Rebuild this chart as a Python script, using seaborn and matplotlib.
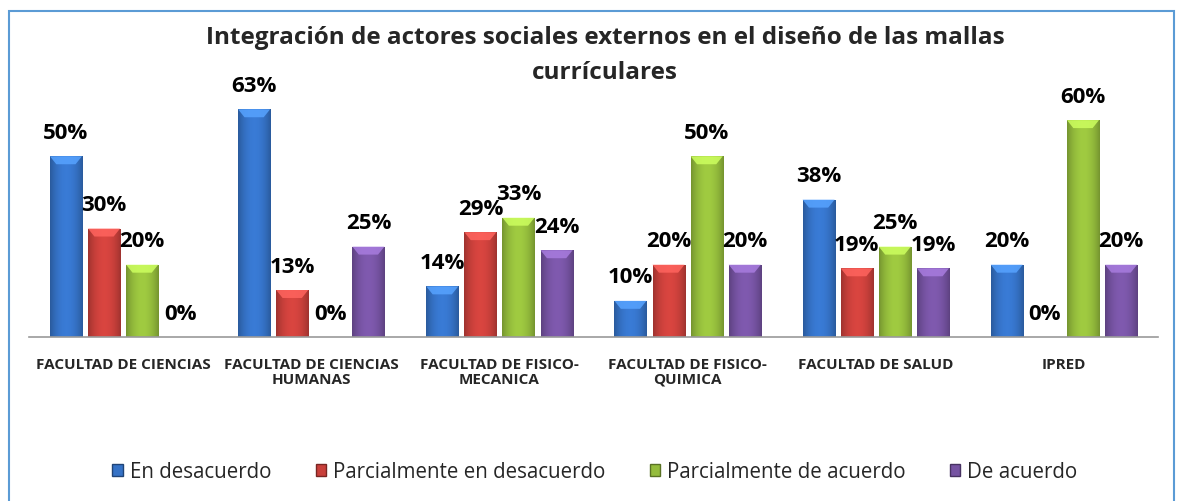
import numpy as np
import pandas as pd
import matplotlib
matplotlib.use("Agg")
import matplotlib.pyplot as plt
import matplotlib.colors as mcolors
from matplotlib.patches import Rectangle, Polygon
import seaborn as sns

categories = ["FACULTAD DE CIENCIAS", "FACULTAD DE CIENCIAS\nHUMANAS",
              "FACULTAD DE FISICO-\nMECANICA", "FACULTAD DE FISICO-\nQUIMICA",
              "FACULTAD DE SALUD", "IPRED"]
series = ["En desacuerdo", "Parcialmente en desacuerdo",
          "Parcialmente de acuerdo", "De acuerdo"]
en_desacuerdo = [0.50, 0.63, 0.14, 0.10, 0.38, 0.20]
parc_desacuerdo = [0.30, 0.13, 0.29, 0.20, 0.19, 0.00]
parc_acuerdo = [0.20, 0.00, 0.33, 0.50, 0.25, 0.60]
de_acuerdo = [0.00, 0.25, 0.24, 0.20, 0.19, 0.20]
colors = ["#3572C6", "#C9403B", "#94BC3C", "#7653A2"]
title_lines = ["Integración de actores sociales externos en el diseño de las mallas",
               "currículares"]

sns.set_theme(style="white")
plt.rcParams['font.family'] = ['Open Sans', 'DejaVu Sans']

values = [en_desacuerdo, parc_desacuerdo, parc_acuerdo, de_acuerdo]
df = pd.DataFrame({
    "cat": np.repeat([categories], 4, axis=0).ravel(),
    "serie": np.repeat(series, len(categories)),
    "val": np.concatenate(values),
})

fig = plt.figure(figsize=(11.78, 5.01), dpi=100)
fig.patches.append(Rectangle((9 / 1178, -0.01), 1165 / 1178, 1 - 11 / 501 + 0.01,
                             transform=fig.transFigure, fill=False,
                             edgecolor="#5B9BD5", linewidth=1.5))
ax = fig.add_axes([29 / 1178, 1 - 337 / 501, 1129 / 1178, 253 / 501])
sns.barplot(data=df, x="cat", y="val", hue="serie", order=categories,
            hue_order=series, palette=colors, width=0.81, gap=0.16,
            ax=ax, legend=False, saturation=1)

# gradient shading on each bar
for bar in ax.patches:
    x0, y0 = bar.get_x(), bar.get_y()
    w, h = bar.get_width(), bar.get_height()
    if h <= 0:
        continue
    base = np.array(mcolors.to_rgb(bar.get_facecolor()))
    t = np.linspace(0, 1, 64)
    shade = 0.78 + 0.30 * np.sin(np.pi * t) ** 0.8
    grad = np.clip(base[None, :] * shade[:, None], 0, 1)[None, :, :]
    im = ax.imshow(grad, extent=[x0, x0 + w, y0, y0 + h], aspect="auto",
                   zorder=2.5, interpolation="bicubic")
    im.set_clip_path(bar)
    bar.set_edgecolor(tuple(base * 0.6))
    bar.set_linewidth(0.6)
    # top bevel
    dh = min(0.022, h)
    light = tuple(np.clip(base * 1.25 + 0.08, 0, 1))
    tri = Polygon([[x0, y0 + h], [x0 + w, y0 + h], [x0 + w * 0.8, y0 + h - dh],
                   [x0 + w * 0.2, y0 + h - dh]], closed=True,
                  facecolor=light, edgecolor="none", zorder=2.6, alpha=0.85)
    ax.add_patch(tri)

for cont in ax.containers:
    ax.bar_label(cont, labels=[f"{v * 100:.0f}%" for v in cont.datavalues],
                 padding=9, fontsize=16, fontweight="bold", color="black")

ax.set_ylim(0, 0.70)
ax.set_xlim(-0.5, len(categories) - 0.5)
ax.set_xlabel("")
ax.set_ylabel("")
ax.set_yticks([])
ax.tick_params(axis="x", length=0, pad=15)
for lbl in ax.get_xticklabels():
    lbl.set_fontsize(11)
    lbl.set_fontweight("bold")
    lbl.set_linespacing(1.1)
for s in ["top", "right", "left"]:
    ax.spines[s].set_visible(False)
ax.spines["bottom"].set_color("#9A9A9A")
ax.spines["bottom"].set_linewidth(1.2)

fig.text(605 / 1178, 1 - 38 / 501, title_lines[0], ha="center", va="center",
         fontsize=17.5, fontweight="bold")
fig.text(605 / 1178, 1 - 73 / 501, title_lines[1], ha="center", va="center",
         fontsize=17.5, fontweight="bold")

handles = [Rectangle((0, 0), 1, 1, facecolor=c, edgecolor=tuple(np.array(mcolors.to_rgb(c)) * 0.6))
           for c in colors]
fig.legend(handles, series, loc="center", bbox_to_anchor=(595 / 1178, 1 - 472 / 501),
           ncol=4, frameon=False, fontsize=14.8, handlelength=0.5, handleheight=0.55,
           handletextpad=0.35, columnspacing=2.15)

fig.savefig("out.png", dpi=100)
